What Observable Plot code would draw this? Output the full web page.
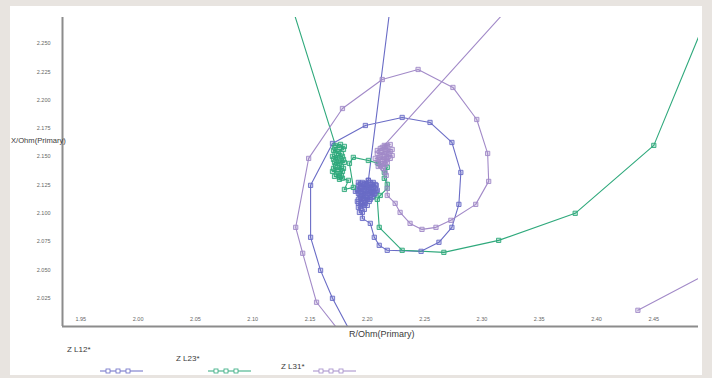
<!DOCTYPE html>
<html><head><meta charset="utf-8">
<script src="https://cdn.jsdelivr.net/npm/d3@7"></script>
<script src="https://cdn.jsdelivr.net/npm/@observablehq/plot@0.6"></script>
<style>
body{margin:0;background:#e8e4e0;width:712px;height:378px;overflow:hidden;position:relative;font-family:"Liberation Sans",Arial,sans-serif;}
#panel{position:absolute;left:10px;top:6px;width:692px;height:369px;background:#fff;}
#chart{position:absolute;left:0;top:0;}
.lbl{position:absolute;font-size:8px;line-height:8px;color:#3a3a3a;white-space:nowrap;}
.leg{position:absolute;left:0;top:0;}
</style></head><body>
<div id="panel"></div>
<div id="chart"></div>
<script>
// ---- data ----
const seriesNames = ["Z L12*", "Z L23*", "Z L31*"];
const seriesColors = ["#6a6cc6", "#2fa97c", "#a28ac8"];

const xTicks = [1.95, 2.00, 2.05, 2.10, 2.15, 2.20, 2.25, 2.30, 2.35, 2.40, 2.45];
const yTicks = [2.025, 2.050, 2.075, 2.100, 2.125, 2.150, 2.175, 2.200, 2.225, 2.250];
const xDomain = [1.934, 2.489];
const yDomain = [2.000, 2.273];
const xTitle = "R/Ohm(Primary)";
const yTitle = "X/Ohm(Primary)";

// Z L12* (R, X)
const zl12R = [2.2201, 2.2009,
  2.1939, 2.1991, 2.2043, 2.1913, 2.1974, 2.2026, 2.2069, 2.1939, 2.2000, 2.2052, 2.1922, 2.1974,
  2.2009, 2.1957, 2.2052, 2.1922, 2.1991, 2.2078, 2.1948, 2.2017, 2.1896, 2.1974, 2.2043, 2.2087,
  2.1931, 2.2000, 2.2061, 2.1957, 2.2026, 2.1913, 2.1983, 2.1939, 2.1974, 2.1931,
  2.1922, 2.1974, 2.2026, 2.2069, 2.1939, 2.2009, 2.2052, 2.1913, 2.1965, 2.2035, 2.2078, 2.1922,
  2.1983, 2.2026, 2.2069, 2.1948, 2.1991, 2.2043, 2.1922, 2.1974, 2.2017, 2.1948, 2.2000, 2.1922, 2.1957,
  2.1957, 2.2026, 2.2061, 2.2104, 2.2174, 2.2469, 2.2625, 2.2738, 2.2799, 2.2816, 2.2738, 2.2547,
  2.2304, 2.1983, 2.1696, 2.1505, 2.1505, 2.1592, 2.1696, 2.1891];
const zl12X = [2.2835, 2.1291,
  2.1264, 2.1238, 2.1256, 2.1203, 2.1185, 2.1203, 2.1220, 2.1141, 2.1123, 2.1150, 2.1088, 2.1070,
  2.1291, 2.1273, 2.1273, 2.1247, 2.1247, 2.1247, 2.1220, 2.1220, 2.1194, 2.1194, 2.1194, 2.1203,
  2.1167, 2.1158, 2.1167, 2.1132, 2.1123, 2.1105, 2.1097, 2.1061, 2.1035, 2.1008,
  2.1273, 2.1264, 2.1273, 2.1255, 2.1238, 2.1238, 2.1229, 2.1220, 2.1211, 2.1211, 2.1194, 2.1176,
  2.1176, 2.1176, 2.1176, 2.1149, 2.1140, 2.1140, 2.1123, 2.1114, 2.1105, 2.1087, 2.1070, 2.1052, 2.1008,
  2.0955, 2.0911, 2.0788, 2.0717, 2.0673, 2.0664, 2.0744, 2.0876, 2.1079, 2.1361, 2.1626, 2.1803,
  2.1847, 2.1776, 2.1617, 2.1247, 2.0788, 2.0496, 2.0249, 1.9879];

// Z L23* (R, X)
const zl23R = [2.1340, 2.1722,
  2.1766, 2.1792, 2.1748, 2.1705, 2.1696, 2.1740, 2.1783, 2.1800, 2.1757, 2.1714, 2.1705, 2.1748,
  2.1792, 2.1774, 2.1731, 2.1757, 2.1783,
  2.1714, 2.1757, 2.1800, 2.1731, 2.1774, 2.1705, 2.1748, 2.1792, 2.1722, 2.1774, 2.1696, 2.1740,
  2.1783, 2.1757, 2.1714,
  2.1835, 2.1800, 2.1878, 2.1844, 2.1878, 2.2009, 2.2095, 2.2174, 2.2148, 2.2148, 2.2174, 2.2174,
  2.2113, 2.2087, 2.2104, 2.2304, 2.2668, 2.3146, 2.3814, 2.4500, 2.5003];
const zl23X = [2.2835, 2.1600,
  2.1609, 2.1564, 2.1547, 2.1556, 2.1503, 2.1494, 2.1503, 2.1450, 2.1441, 2.1450, 2.1397, 2.1388,
  2.1397, 2.1335, 2.1344, 2.1300, 2.1310,
  2.1582, 2.1582, 2.1591, 2.1529, 2.1529, 2.1476, 2.1467, 2.1476, 2.1423, 2.1414, 2.1370, 2.1370,
  2.1370, 2.1317, 2.1326,
  2.1291, 2.1211, 2.1229, 2.1441, 2.1494, 2.1467, 2.1441, 2.1406, 2.1361, 2.1309, 2.1256, 2.1220,
  2.1158, 2.1123, 2.0876, 2.0673, 2.0655, 2.0761, 2.1000, 2.1600, 2.2835];

// Z L31* (R, X); null breaks the line where it leaves the chart
const zl31R = [2.3250, 2.2148,
  2.2200, 2.2156, 2.2113, 2.2217, 2.2174, 2.2130, 2.2087, 2.2191, 2.2148, 2.2104, 2.2069, 2.2174,
  2.2130, 2.2087, 2.2156, 2.2113, 2.2139, 2.2156,
  2.2174, 2.2130, 2.2087, 2.2200, 2.2156, 2.2113, 2.2217, 2.2165, 2.2095, 2.2148, 2.2200, 2.2122,
  2.2174, 2.2139, 2.2095,
  2.2165, 2.2174, 2.2174, 2.2243, 2.2286, 2.2373, 2.2477, 2.2599, 2.2729, 2.2946, 2.3059, 2.3050,
  2.2955, 2.2747, 2.2443, 2.2130, 2.1783, 2.1488, 2.1375, 2.1436, 2.1557, 2.1818,
  null, 2.4361, 2.5012];
const zl31X = [2.2835, 2.1600,
  2.1608, 2.1591, 2.1573, 2.1564, 2.1555, 2.1538, 2.1529, 2.1520, 2.1502, 2.1493, 2.1485, 2.1476,
  2.1458, 2.1449, 2.1432, 2.1423, 2.1396, 2.1361,
  2.1599, 2.1582, 2.1555, 2.1546, 2.1546, 2.1520, 2.1511, 2.1502, 2.1476, 2.1476, 2.1485, 2.1440,
  2.1449, 2.1414, 2.1414,
  2.1335, 2.1220, 2.1158, 2.1088, 2.1008, 2.0911, 2.0858, 2.0876, 2.0938, 2.1079, 2.1282, 2.1529,
  2.1829, 2.2112, 2.2271, 2.2182, 2.1926, 2.1485, 2.0876, 2.0647, 2.0214, 1.9879,
  null, 2.0143, 2.0490];

// ---- build table ----
const seriesR = [zl12R, zl23R, zl31R];
const seriesX = [zl12X, zl23X, zl31X];
const rows = [];
seriesNames.forEach((name, i) => {
  seriesR[i].forEach((r, j) => rows.push({series: name, r: r, x: seriesX[i][j]}));
});

const font = '"Liberation Sans", Arial, sans-serif';
const chart = Plot.plot({
  width: 712,
  height: 345,
  marginLeft: 62,
  marginRight: 14,
  marginTop: 17,
  marginBottom: 19,
  style: {background: "transparent", fontFamily: font, overflow: "visible"},
  x: {domain: xDomain},
  y: {domain: yDomain},
  color: {domain: seriesNames, range: seriesColors},
  marks: [
    Plot.axisY({ticks: yTicks, tickFormat: d3.format(".3f"), tickSize: 0, tickPadding: 12, fontSize: 5.5, color: "#666", label: null}),
    Plot.axisX({ticks: xTicks, tickFormat: d3.format(".2f"), tickSize: 0, tickPadding: -9, fontSize: 5.5, color: "#666", label: null}),
    Plot.line(rows, {x: "r", y: "x", z: "series", stroke: "series", strokeWidth: 1.1, clip: true}),
    Plot.dot(rows, {x: "r", y: "x", stroke: "series", fill: "series", fillOpacity: 0.3, symbol: "square", r: 2.4, strokeWidth: 0.9, clip: true}),
    Plot.ruleX([xDomain[0]], {stroke: "#8c8c8c", strokeWidth: 2}),
    Plot.ruleY([yDomain[0]], {stroke: "#8c8c8c", strokeWidth: 2})
  ]
});
document.getElementById("chart").appendChild(chart);

// ---- titles ----
function addLabel(text, left, top, size) {
  const d = document.createElement("div");
  d.className = "lbl";
  d.textContent = text;
  d.style.left = left + "px";
  d.style.top = top + "px";
  if (size) { d.style.fontSize = size + "px"; d.style.lineHeight = size + "px"; }
  document.body.appendChild(d);
  return d;
}
addLabel(yTitle, 11, 137, 7.6);
addLabel(xTitle, 349, 330, 9);

// ---- legend ----
const legendLayout = [
  {tx: 67, ty: 346, x1: 100, x2: 143, y: 371},
  {tx: 176, ty: 355, x1: 208, x2: 251, y: 371},
  {tx: 281, ty: 363, x1: 313, x2: 356, y: 371}
];
const ns = "http://www.w3.org/2000/svg";
const legSvg = document.createElementNS(ns, "svg");
legSvg.setAttribute("class", "leg");
legSvg.setAttribute("width", 712);
legSvg.setAttribute("height", 378);
legSvg.style.position = "absolute";
document.body.appendChild(legSvg);
seriesNames.forEach((name, i) => {
  const L = legendLayout[i];
  addLabel(name, L.tx, L.ty);
  const ln = document.createElementNS(ns, "line");
  ln.setAttribute("x1", L.x1); ln.setAttribute("x2", L.x2);
  ln.setAttribute("y1", L.y); ln.setAttribute("y2", L.y);
  ln.setAttribute("stroke", seriesColors[i]); ln.setAttribute("stroke-width", 1);
  legSvg.appendChild(ln);
  for (let k = 0; k < 3; k++) {
    const cx = L.x1 + 8 + k * 10;
    const s = document.createElementNS(ns, "rect");
    s.setAttribute("x", cx - 2); s.setAttribute("y", L.y - 2);
    s.setAttribute("width", 4); s.setAttribute("height", 4);
    s.setAttribute("fill", "#fff"); s.setAttribute("stroke", seriesColors[i]);
    s.setAttribute("stroke-width", 0.8);
    legSvg.appendChild(s);
  }
});
</script>
</body></html>
